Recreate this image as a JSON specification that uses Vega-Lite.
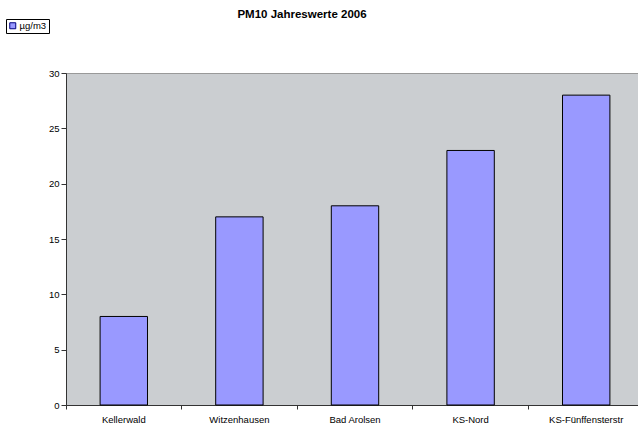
{
  "$schema": "https://vega.github.io/schema/vega-lite/v6.json",
  "width": 572,
  "height": 332,
  "autosize": {"type": "none"},
  "padding": {"left": 66, "top": 73, "right": 0, "bottom": 18},
  "background": "white",
  "title": {
    "text": "PM10 Jahreswerte 2006",
    "font": "Liberation Sans",
    "fontSize": 11.5,
    "fontWeight": "bold",
    "color": "black",
    "anchor": "middle",
    "frame": "group",
    "dx": -50,
    "offset": -2
  },
  "data": {
    "values": [
      {"station": "Kellerwald", "wert": 8},
      {"station": "Witzenhausen", "wert": 17},
      {"station": "Bad Arolsen", "wert": 18},
      {"station": "KS-Nord", "wert": 23},
      {"station": "KS-Fünffensterstr", "wert": 28}
    ]
  },
  "mark": {"type": "bar", "stroke": "black", "strokeWidth": 1, "width": {"band": 0.41}},
  "encoding": {
    "x": {
      "field": "station",
      "type": "nominal",
      "sort": null,
      "scale": {"range": [0, 578], "paddingInner": 0, "paddingOuter": 0},
      "axis": {
        "title": null,
        "labelAngle": 0,
        "labelFont": "Liberation Sans",
        "labelFontSize": 9.5,
        "labelColor": "black",
        "labelPadding": 5,
        "bandPosition": 0,
        "tickSize": 4,
        "tickColor": "#333333",
        "domainColor": "#333333",
        "grid": false
      }
    },
    "y": {
      "field": "wert",
      "type": "quantitative",
      "scale": {"domain": [0, 30], "nice": false},
      "axis": {
        "title": null,
        "values": [0, 5, 10, 15, 20, 25, 30],
        "labelFont": "Liberation Sans",
        "labelFontSize": 9.5,
        "labelColor": "black",
        "labelPadding": 2,
        "tickSize": 5,
        "tickColor": "#333333",
        "domainColor": "#333333",
        "grid": false
      }
    },
    "color": {
      "datum": "µg/m3",
      "type": "nominal",
      "scale": {"range": ["#9999ff"]},
      "legend": {
        "title": null,
        "orient": "none",
        "legendX": -60,
        "legendY": -54,
        "strokeColor": "black",
        "padding": 2,
        "symbolType": "square",
        "symbolSize": 36,
        "symbolStrokeColor": "#000080",
        "symbolStrokeWidth": 1,
        "labelFont": "Liberation Sans",
        "labelFontSize": 9.5,
        "labelColor": "black",
        "labelOffset": 2
      }
    }
  },
  "config": {
    "view": {"fill": "#cbced1", "stroke": "#999999", "strokeWidth": 1}
  }
}
